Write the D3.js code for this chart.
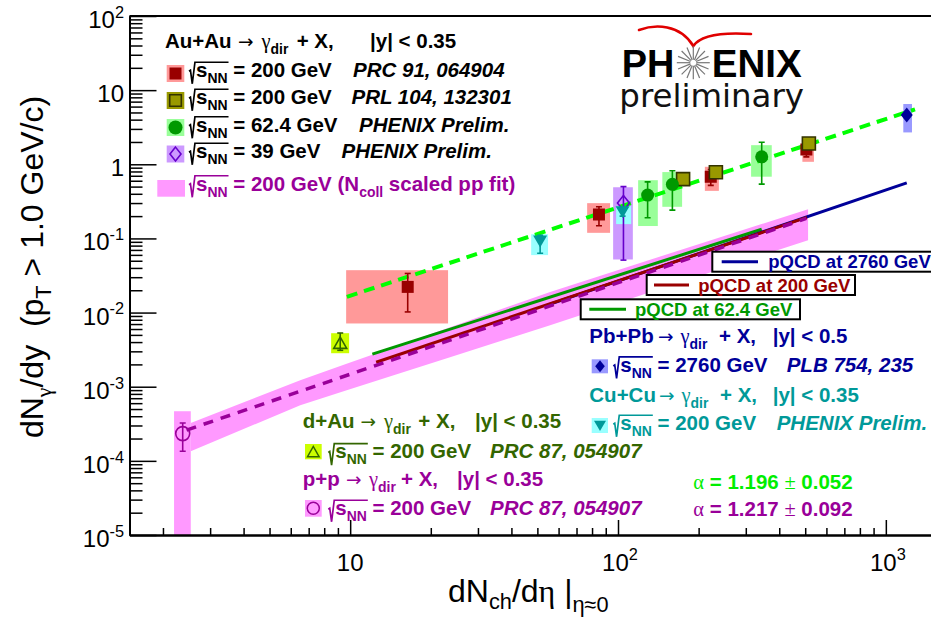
<!DOCTYPE html>
<html><head><meta charset="utf-8">
<script src="https://cdn.jsdelivr.net/npm/d3@7"></script>
<style>body{margin:0;background:#fff} text{white-space:pre}</style>
</head><body><svg id="c" width="931" height="622" xmlns="http://www.w3.org/2000/svg"></svg>
<script>
// ---------------- DATA ----------------
// Au+Au 200 GeV, PRC 91, 064904
const auPrcX = [16.4, 84.9, 222, 505];
const auPrcY = [0.0222, 0.211, 0.68, 1.58];
const auPrcStatLo = [0.0102, 0.148, 0.52, 1.26];
const auPrcStatHi = [0.0337, 0.267, 0.85, 1.95];
const auPrcSysXlo = [9.66, 76.7, 211, 488];
const auPrcSysXhi = [23.2, 93.4, 238, 539];
const auPrcSysYlo = [0.00713, 0.119, 0.438, 1.08];
const auPrcSysYhi = [0.0373, 0.299, 0.925, 1.72];
// Au+Au 200 GeV, PRL 104, 132301
const auPrlX = [175, 232, 516];
const auPrlY = [0.63, 0.78, 1.91];
// Au+Au 62.4 GeV
const au62X = [129, 159.6, 344];
const au62Y = [0.384, 0.536, 1.26];
const au62StatLo = [0.19, 0.241, 0.54];
const au62StatHi = [0.58, 0.817, 1.98];
const au62SysXlo = [118.9, 146.4, 314];
const au62SysXhi = [140.8, 173.5, 375];
const au62SysYlo = [0.147, 0.267, 0.68];
const au62SysYhi = [0.61, 0.785, 1.81];
// Au+Au 39 GeV
const au39X = [104.8];
const au39Y = [0.30];
const au39StatLo = [0.051];
const au39StatHi = [0.50];
const au39SysXlo = [95.9], au39SysXhi = [113.6], au39SysYlo = [0.052], au39SysYhi = [0.49];
// Cu+Cu 200 GeV
const cuX = [51.2, 104];
const cuY = [0.092, 0.229];
const cuStatLo = [0.063, 0.20];
const cuStatHi = [0.11, 0.26];
const cuSysXlo = [47.4, 98.4], cuSysXhi = [54.8, 112], cuSysYlo = [0.0596, 0.156], cuSysYhi = [0.114, 0.273];
// Pb+Pb 2760 GeV
const pbX = [1197];
const pbY = [4.61];
const pbSysXlo = [1162], pbSysXhi = [1252], pbSysYlo = [2.69], pbSysYhi = [6.5];
// d+Au 200 GeV
const daX = [9.18];
const daY = [0.00386];
const daStatLo = [0.0031], daStatHi = [0.0053];
const daSysXlo = [8.49], daSysXhi = [9.91], daSysYlo = [0.00283], daSysYhi = [0.00527];
// p+p 200 GeV
const ppX = [2.37];
const ppY = [2.33e-4];
const ppStatLo = [1.35e-4], ppStatHi = [3.24e-4];
const ppSysXlo = [2.20], ppSysXhi = [2.54], ppSysYlo = [1e-6], ppSysYhi = [4.67e-4];
// Ncoll scaled pp fit band
const bandX  = [2.54, 6.51, 9.58, 13.5, 23.6, 55.8, 131.8, 512.5];
const bandLo = [1.35e-4, 5.62e-4, 8.81e-4, 1.31e-3, 2.50e-3, 6.76e-3, 0.0188, 0.0948];
const bandHi = [3.25e-4, 1.22e-3, 2.01e-3, 3.11e-3, 6.35e-3, 0.0190, 0.0516, 0.248];
const ppFitX = [2.45, 505];
const ppFitY = [2.6e-4, 0.186];
// power-law fit to A+A
const aaFitX = [9.72, 1285];
const aaFitY = [0.0163, 5.5];
// pQCD curves
const pq62X = [12.1, 344],  pq62Y = [2.75e-3, 0.133];
const pq200X = [12.5, 507], pq200Y = [2.14e-3, 0.192];
const pq2760X = [55.8, 1197], pq2760Y = [0.0130, 0.562];
// axes
const xMajor = [10, 100, 1000];
const xMajorExp = [1, 2, 3];
const yMajorExp = [-5, -4, -3, -2, -1, 0, 1, 2];

// ---------------- SETUP ----------------
const svg = d3.select('#c');
const L = 129.5, R = 933, T = 16, B = 535;
const x = d3.scaleLog().domain([1.5, 1500]).range([L, R]);
const y = d3.scaleLog().domain([1e-5, 100]).range([B, T]);
const SANS = 'Liberation Sans, Arial, sans-serif';
const SERIF = 'Liberation Serif, serif';
const DJ = 'DejaVu Sans, sans-serif';
const FS = 20.5;

svg.append('defs').append('clipPath').attr('id', 'clip')
  .append('rect').attr('x', L).attr('y', T).attr('width', R - L).attr('height', B - T);
const plot = svg.append('g').attr('clip-path', 'url(#clip)');

// rich text helper
function rich(parent, x0, y0, segs, o) {
  const size = o.size || FS, fam = o.fam || SANS, wt = o.w || 'bold', col = o.color || '#000';
  const g = parent.append('g');
  const inner = g.append('g');
  let cx = 0;
  segs.forEach(s => {
    if (s.at != null) cx = s.at - x0;
    if (s.rad) { s._x = cx; cx += size * 0.34; return; }
    const fs = (s.sub || s.sup) ? size * (s.scale || 0.68) : size * (s.scale || 1);
    const dy = s.sub ? size * (s.dy != null ? s.dy : 0.3) : s.sup ? -size * (s.dy != null ? s.dy : 0.42) : 0;
    const t = inner.append('text').attr('x', cx).attr('y', dy).attr('xml:space', 'preserve').text(s.t)
      .style('font-family', s.fam || fam).style('font-size', fs + 'px')
      .style('font-weight', s.w || wt).style('font-style', s.it ? 'italic' : 'normal')
      .attr('fill', s.color || col);
    const w = t.node().getComputedTextLength();
    s._x = cx; s._w = w;
    cx += w + (s.dx || 0);
  });
  segs.forEach((s, i) => {
    if (!s.rad) return;
    let end = s._x + size * 0.34;
    for (let j = i + 1; j < segs.length && segs[j].ol; j++) end = segs[j]._x + segs[j]._w;
    const sx = s._x, sz = size;
    inner.append('path')
      .attr('d', `M${sx},${-0.28 * sz} L${sx + 0.07 * sz},${-0.33 * sz} L${sx + 0.16 * sz},${0.33 * sz} L${sx + 0.29 * sz},${-0.72 * sz} L${end + 1},${-0.72 * sz}`)
      .attr('fill', 'none').attr('stroke', col).attr('stroke-width', 1.7).attr('stroke-linejoin', 'miter');
  });
  let shift = 0;
  if (o.anchor === 'middle') shift = cx / 2;
  if (o.anchor === 'end') shift = cx;
  g.attr('transform', `translate(${x0},${y0})` + (o.rot ? ` rotate(${o.rot})` : ''));
  inner.attr('transform', `translate(${-shift},0)`);
  return cx;
}

// ---------------- MARKS ----------------
const bandData = bandX.map((v, i) => [v, bandLo[i], bandHi[i]]);
plot.append('path').datum(bandData)
  .attr('d', d3.area().x(d => x(d[0])).y0(d => y(d[1])).y1(d => y(d[2])))
  .attr('fill', '#ff99ff');

function boxes(xl, xh, yl, yh, fill) {
  plot.append('g').selectAll('rect').data(xl.map((v, i) => i)).join('rect')
    .attr('x', i => x(xl[i])).attr('width', i => x(xh[i]) - x(xl[i]))
    .attr('y', i => y(yh[i])).attr('height', i => y(yl[i]) - y(yh[i]))
    .attr('fill', fill);
}
boxes(ppSysXlo, ppSysXhi, ppSysYlo, ppSysYhi, '#ff99ff');
boxes(auPrcSysXlo, auPrcSysXhi, auPrcSysYlo, auPrcSysYhi, '#ff9999');
boxes(au62SysXlo, au62SysXhi, au62SysYlo, au62SysYhi, '#99ff99');
boxes(au39SysXlo, au39SysXhi, au39SysYlo, au39SysYhi, '#cc99ff');
boxes(cuSysXlo, cuSysXhi, cuSysYlo, cuSysYhi, '#99ffff');
boxes(pbSysXlo, pbSysXhi, pbSysYlo, pbSysYhi, '#9999ff');
boxes(daSysXlo, daSysXhi, daSysYlo, daSysYhi, '#ccff00');

const line = d3.line().x(d => x(d[0])).y(d => y(d[1]));
function curve(xs, ys, col, w, dash) {
  plot.append('path').datum(xs.map((v, i) => [v, ys[i]])).attr('d', line)
    .attr('fill', 'none').attr('stroke', col).attr('stroke-width', w)
    .attr('stroke-dasharray', dash || null);
}
curve(pq62X, pq62Y, '#009900', 3);
curve(pq2760X, pq2760Y, '#000099', 3);
curve(pq200X, pq200Y, '#990000', 3);
curve(ppFitX, ppFitY, '#990099', 3.5, '10,8');
curve(aaFitX, aaFitY, '#00ff00', 4, '11,7');

function errs(xs, ys, lo, hi, col) {
  const g = plot.append('g').attr('stroke', col).attr('stroke-width', 1.6);
  xs.forEach((v, i) => {
    const px = x(v);
    g.append('line').attr('x1', px).attr('x2', px).attr('y1', y(lo[i])).attr('y2', y(hi[i]));
    g.append('line').attr('x1', px - 3).attr('x2', px + 3).attr('y1', y(lo[i])).attr('y2', y(lo[i]));
    g.append('line').attr('x1', px - 3).attr('x2', px + 3).attr('y1', y(hi[i])).attr('y2', y(hi[i]));
  });
}
errs(auPrcX, auPrcY, auPrcStatLo, auPrcStatHi, '#990000');
errs(au62X, au62Y, au62StatLo, au62StatHi, '#009900');
errs(au39X, au39Y, au39StatLo, au39StatHi, '#6600cc');
errs(cuX, cuY, cuStatLo, cuStatHi, '#009999');
errs(daX, daY, daStatLo, daStatHi, '#336600');
errs(ppX, ppY, ppStatLo, ppStatHi, '#990099');

const shapes = {
  square: (s) => `M${-s},${-s}H${s}V${s}H${-s}Z`,
  diamond: (s) => `M0,${-s * 1.25}L${s},0L0,${s * 1.25}L${-s},0Z`,
  tdown: (s) => `M${-s},${-s * 0.8}H${s}L0,${s * 0.9}Z`,
  tup: (s) => `M${-s},${s * 0.8}H${s}L0,${-s * 0.95}Z`,
  circle: (s) => `M${-s},0A${s},${s} 0 1,0 ${s},0A${s},${s} 0 1,0 ${-s},0Z`
};
function markers(parent, pts, shape, s, fill, stroke, sw) {
  parent.append('g').selectAll('path').data(pts).join('path')
    .attr('transform', d => `translate(${d[0]},${d[1]})`)
    .attr('d', shapes[shape](s)).attr('fill', fill).attr('stroke', stroke || 'none').attr('stroke-width', sw || 0);
}
const P = (xs, ys) => xs.map((v, i) => [x(v), y(ys[i])]);
markers(plot, P(auPrcX, auPrcY), 'square', 6, '#990000');
markers(plot, P(auPrlX, auPrlY), 'square', 6.5, '#999900', '#333300', 1.6);
markers(plot, P(au62X, au62Y), 'circle', 6.5, '#009900');
markers(plot, P(au39X, au39Y), 'diamond', 6, 'none', '#6600cc', 1.6);
markers(plot, P(cuX, cuY), 'tdown', 7, '#009999');
markers(plot, P(pbX, pbY), 'diamond', 6, '#000099');
markers(plot, P(daX, daY), 'tup', 6.5, 'none', '#336600', 1.6);
markers(plot, P(ppX, ppY), 'circle', 7, 'none', '#990099', 1.6);

// ---------------- AXES ----------------
const xMinor = [], yMinor = [];
for (let e = 0; e <= 3; e++) for (let k = 2; k <= 9; k++) { const v = k * Math.pow(10, e); if (v > 1.5 && v < 1500) xMinor.push(v); }
for (let e = -5; e <= 1; e++) for (let k = 2; k <= 9; k++) yMinor.push(k * Math.pow(10, e));
const ax = svg.append('g').attr('transform', `translate(0,${B})`);
ax.call(d3.axisBottom(x).tickValues(xMinor).tickSize(-7).tickSizeOuter(0).tickFormat(''));
ax.call(g => g.append('g').call(d3.axisBottom(x).tickValues(xMajor).tickSize(-15).tickSizeOuter(0).tickFormat('')));
const ay = svg.append('g').attr('transform', `translate(${L},0)`);
ay.call(d3.axisLeft(y).tickValues(yMinor).tickSize(-13).tickSizeOuter(0).tickFormat(''));
ay.call(g => g.append('g').call(d3.axisLeft(y).tickValues(yMajorExp.map(e => Math.pow(10, e))).tickSize(-27).tickSizeOuter(0).tickFormat('')));
svg.selectAll('.domain').attr('stroke', '#000').attr('stroke-width', 2);
svg.selectAll('.tick line').attr('stroke', '#000').attr('stroke-width', 1.5);
svg.append('line').attr('x1', L).attr('x2', R).attr('y1', T).attr('y2', T).attr('stroke', '#000').attr('stroke-width', 2);

function powLabel(e) {
  if (e === 0) return [{ t: '1' }];
  if (e === 1) return [{ t: '10' }];
  return [{ t: '10' }, { t: String(e), sup: true }];
}
yMajorExp.forEach(e => {
  rich(svg, 124, y(Math.pow(10, e)) + 12, powLabel(e), { size: 24, w: 'normal', anchor: 'end' });
});
xMajorExp.forEach((e, i) => {
  rich(svg, x(xMajor[i]) + (e > 1 ? 2 : 0), 570.5, powLabel(e), { size: 24, w: 'normal', anchor: 'middle' });
});
rich(svg, 448, 601.5, [
  { t: 'dN' }, { t: 'ch', sub: true, dy: 0.22 }, { t: '/d' }, { t: 'η', fam: SERIF }, { t: ' |' },
  { t: 'η≈0', sub: true, dy: 0.32 }
], { size: 32, w: 'normal' });
rich(svg, 43, 267, [
  { t: 'dN' }, { t: 'γ', sub: true, fam: SERIF, dy: 0.25 }, { t: '/dy  (p' }, { t: 'T', sub: true, dy: 0.25 },
  { t: ' > 1.0 GeV/c)' }
], { size: 32, w: 'normal', rot: -90, anchor: 'middle' });

// ---------------- LEGENDS ----------------
const leg = svg.append('g');
function procLine(x0, yb, name, arrowAt, gamAt, xAt, yAt, yLabel, col) {
  rich(leg, x0, yb, [
    { t: name },
    { t: '→', fam: DJ, w: 'normal', scale: 0.9, at: arrowAt + 3 },
    { t: 'γ', fam: SERIF, w: 'normal', at: gamAt + 1.5 },
    { t: 'dir', sub: true },
    { t: '+ X,', at: xAt },
    { t: yLabel, at: yAt }
  ], { color: col });
}
const sqrtS = [{ rad: true }, { t: 's', ol: true }, { t: 'NN', sub: true, ol: true }];
function legBox(x0, y0, w, h, fill) { leg.append('rect').attr('x', x0).attr('y', y0).attr('width', w).attr('height', h).attr('fill', fill); }

// top-left block
procLine(165, 48, 'Au+Au', 235, 260, 296.7, 370, '|y| < 0.35', '#000');
const tlRows = [77, 104, 131.5, 158];
legBox(166.7, 65, 17.6, 17, '#ff9999');
markers(leg, [[175.5, 73.5]], 'square', 6, '#990000');
legBox(166.7, 92, 17.6, 17, '#999900');
markers(leg, [[175.5, 100.5]], 'square', 5.8, '#999900', '#333300', 1.6);
legBox(166.7, 119, 17.6, 17, '#99ff99');
markers(leg, [[175.5, 127.5]], 'circle', 7, '#009900');
legBox(166.7, 145.5, 17.6, 17, '#cc99ff');
markers(leg, [[175.5, 154]], 'diamond', 5.5, 'none', '#6600cc', 1.6);
legBox(157.3, 180, 27.7, 16.7, '#ff99ff');
rich(leg, 189, tlRows[0], [...sqrtS, { t: ' = 200 GeV' }], {});
rich(leg, 353, tlRows[0], [{ t: 'PRC 91, 064904', it: true }], {});
rich(leg, 189, tlRows[1], [...sqrtS, { t: ' = 200 GeV' }], {});
rich(leg, 351.5, tlRows[1], [{ t: 'PRL 104, 132301', it: true }], {});
rich(leg, 189, tlRows[2], [...sqrtS, { t: ' = 62.4 GeV' }], {});
rich(leg, 359, tlRows[2], [{ t: 'PHENIX Prelim.', it: true }], {});
rich(leg, 189, tlRows[3], [...sqrtS, { t: ' = 39 GeV' }], {});
rich(leg, 341.5, tlRows[3], [{ t: 'PHENIX Prelim.', it: true }], {});
rich(leg, 189, 190.5, [...sqrtS, { t: ' = 200 GeV (N' }, { t: 'coll', sub: true }, { t: ' scaled pp fit)' }], { color: '#990099' });

// pQCD legend boxes
function pqBox(x0, y0, x1, y1, lx0, lx1, tx, label, col) {
  leg.append('rect').attr('x', x0).attr('y', y0).attr('width', x1 - x0).attr('height', y1 - y0)
    .attr('fill', '#fff').attr('stroke', '#000').attr('stroke-width', 2);
  const ym = (y0 + y1) / 2;
  leg.append('line').attr('x1', lx0).attr('x2', lx1).attr('y1', ym).attr('y2', ym).attr('stroke', col).attr('stroke-width', 3);
  rich(leg, tx, ym + 6.5, [{ t: label }], { size: 18.5, color: col });
}
pqBox(712.3, 251.7, 935, 271.7, 721.7, 758, 768.3, 'pQCD at 2760 GeV', '#000099');
pqBox(646.7, 275, 855, 295, 654, 689, 698.3, 'pQCD at 200 GeV', '#990000');
pqBox(580.7, 299.3, 800, 319.3, 589.3, 626, 635, 'pQCD at 62.4 GeV', '#009900');

// Pb+Pb / Cu+Cu block
procLine(589.3, 343.3, 'Pb+Pb', 655, 679, 719, 772.7, '|y| < 0.5', '#000099');
legBox(591.7, 359.3, 16.3, 14, '#9999ff');
markers(leg, [[600, 366.3]], 'diamond', 4.8, '#000099');
rich(leg, 613.3, 371.7, [...sqrtS, { t: ' = 2760 GeV' }], { color: '#000099' });
rich(leg, 786.7, 371.7, [{ t: 'PLB 754, 235', it: true }], { color: '#000099' });
procLine(589.3, 401.5, 'Cu+Cu', 656, 680, 720, 772.7, '|y| < 0.35', '#009999');
legBox(591.7, 418, 16.3, 15, '#99ffff');
markers(leg, [[600, 425.5]], 'tdown', 6, '#009999');
rich(leg, 613.3, 430, [...sqrtS, { t: ' = 200 GeV' }], { color: '#009999' });
rich(leg, 776.7, 430, [{ t: 'PHENIX Prelim.', it: true }], { color: '#009999' });

// d+Au / p+p block
procLine(302.7, 428.3, 'd+Au', 357.5, 382.5, 418.3, 475, '|y| < 0.35', '#336600');
legBox(305, 444, 16.7, 15.3, '#ccff00');
markers(leg, [[313.3, 452]], 'tup', 5.8, 'none', '#336600', 1.5);
rich(leg, 328.3, 458.3, [...sqrtS, { t: ' = 200 GeV' }], { color: '#336600' });
rich(leg, 490, 458.3, [{ t: 'PRC 87, 054907', it: true }], { color: '#336600' });
procLine(302.7, 485.5, 'p+p', 343, 367.5, 401, 457, '|y| < 0.35', '#990099');
legBox(305, 500, 16.7, 16.7, '#ff99ff');
markers(leg, [[313.3, 508.3]], 'circle', 6, 'none', '#990099', 1.5);
rich(leg, 328.3, 515, [...sqrtS, { t: ' = 200 GeV' }], { color: '#990099' });
rich(leg, 490, 515, [{ t: 'PRC 87, 054907', it: true }], { color: '#990099' });

// alpha values
rich(leg, 693.3, 489.3, [{ t: 'α', fam: SERIF, w: 'normal' }, { t: ' = 1.196 ' }, { t: '±', fam: SERIF, w: 'normal' }, { t: ' 0.052' }], { color: '#00ee00' });
rich(leg, 693.3, 516, [{ t: 'α', fam: SERIF, w: 'normal' }, { t: ' = 1.217 ' }, { t: '±', fam: SERIF, w: 'normal' }, { t: ' 0.092' }], { color: '#990099' });

// ---------------- PHENIX LOGO ----------------
const logo = svg.append('g');
logo.append('path').attr('d', 'M639,30 C655,24 680,24 693.3,46 C700,36 720,32 751,34')
  .attr('fill', 'none').attr('stroke', '#e00000').attr('stroke-width', 2.6).attr('stroke-linecap', 'round');
logo.append('text').attr('x', 621.7).attr('y', 76.7).text('PH')
  .style('font-family', SANS).style('font-weight', 'bold').style('font-size', '39px')
  .attr('textLength', 52.6).attr('lengthAdjust', 'spacingAndGlyphs');
logo.append('text').attr('x', 711.7).attr('y', 76.7).text('ENIX')
  .style('font-family', SANS).style('font-weight', 'bold').style('font-size', '39px')
  .attr('textLength', 90).attr('lengthAdjust', 'spacingAndGlyphs');
const spokes = d3.range(16);
logo.append('g').selectAll('line').data(spokes).join('line')
  .attr('x1', d => 693.3 + 3 * Math.cos(d * Math.PI / 8)).attr('y1', d => 62.7 + 3 * Math.sin(d * Math.PI / 8))
  .attr('x2', d => 693.3 + 16.5 * Math.cos(d * Math.PI / 8)).attr('y2', d => 62.7 + 16.5 * Math.sin(d * Math.PI / 8))
  .attr('stroke', '#777').attr('stroke-width', 1.2);
logo.append('text').attr('x', 619.3).attr('y', 107.3).text('preliminary')
  .style('font-family', DJ).style('font-size', '32px').attr('fill', '#111')
  .attr('textLength', 184.7).attr('lengthAdjust', 'spacingAndGlyphs');
</script>
</body></html>
